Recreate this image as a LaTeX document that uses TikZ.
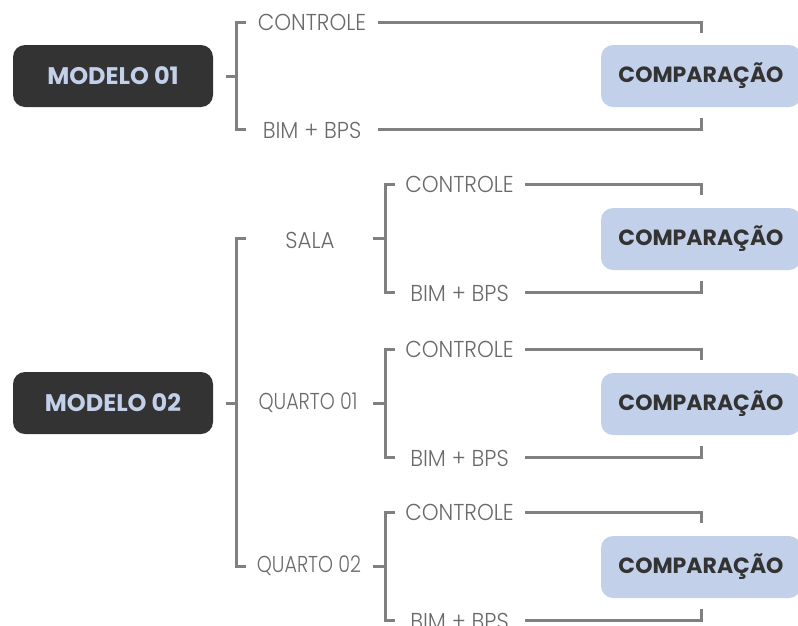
\documentclass[tikz,border=0pt]{standalone}
\usepackage{fontspec}
\setmainfont{Poppins}
\newfontfamily\lightf[FakeStretch=0.93]{Poppins Light}
\newfontfamily\lightn[FakeStretch=0.83]{Poppins Light}
\definecolor{dark}{HTML}{333333}
\definecolor{pale}{HTML}{C3D0EA}
\definecolor{linec}{HTML}{808080}
\definecolor{labc}{HTML}{6A6A6A}
\tikzset{
  modelbox/.style={fill=dark, rounded corners=12pt, minimum width=200pt, minimum height=62pt, text=pale, font=\fontsize{24}{26}\selectfont\bfseries, inner sep=0pt},
  compbox/.style={fill=pale, rounded corners=12pt, minimum width=200pt, minimum height=62pt, text=dark, font=\fontsize{22}{24}\selectfont\bfseries, inner sep=0pt},
  lab/.style={text=labc, font=\lightf\fontsize{23}{25}\selectfont, inner sep=0pt},
  labn/.style={text=labc, font=\lightn\fontsize{23}{25}\selectfont, inner sep=0pt},
  conn/.style={draw=linec, line width=3pt},
}
\begin{document}
\begin{tikzpicture}[x=1pt,y=-1pt]
\useasboundingbox (0,0) rectangle (798,625);
\clip (0,0) rectangle (798,625);
% ---------- MODELO 01 ----------
\node[modelbox] (m1) at (113,76) {MODELO 01};
\node[lab] (c1) at (312,22) {CONTROLE};
\node[lab] (p1) at (312,130) {BIM + BPS};
\node[compbox] (k1) at (701,76) {COMPARAÇÃO};
\coordinate (m1s) at (226,76);
\coordinate (m1b) at (236,76);
\draw[conn] (m1s) -- (m1b);
\draw[conn] (246,22) -| (m1b) |- (246,129);
\draw[conn] (378,22) -| (701,33);
\draw[conn] (378,129) -| (701,118);
% ---------- MODELO 02 ----------
\node[modelbox] (m2) at (113,403) {MODELO 02};
\coordinate (m2s) at (226,403);
\coordinate (m2b) at (236,403);
\draw[conn] (m2s) -- (m2b);
\draw[conn] (246,238) -| (m2b) |- (246,566);
\node[lab] (s) at (310,240) {SALA};
\node[labn] (q1) at (308,403) {QUARTO 01};
\node[labn] (q2) at (309,566) {QUARTO 02};
\foreach \n/\y in {s/238, q1/403, q2/566}{
  \coordinate (\n s) at (373,\y);
  \coordinate (\n b) at (385,\y);
  \draw[conn] (\n s) -- (\n b);
  \draw[conn] (395,\y-54) -| (\n b) |- (395,\y+54);
  \node[lab] (\n c) at (459.5,\y-54) {CONTROLE};
  \node[lab] (\n p) at (459.5,\y+55) {BIM + BPS};
  \node[compbox] (\n k) at (701,\y+1) {COMPARAÇÃO};
  \draw[conn] (525,\y-54) -| (701,\y-43);
  \draw[conn] (525,\y+54) -| (701,\y+43);
}
\end{tikzpicture}
\end{document}
